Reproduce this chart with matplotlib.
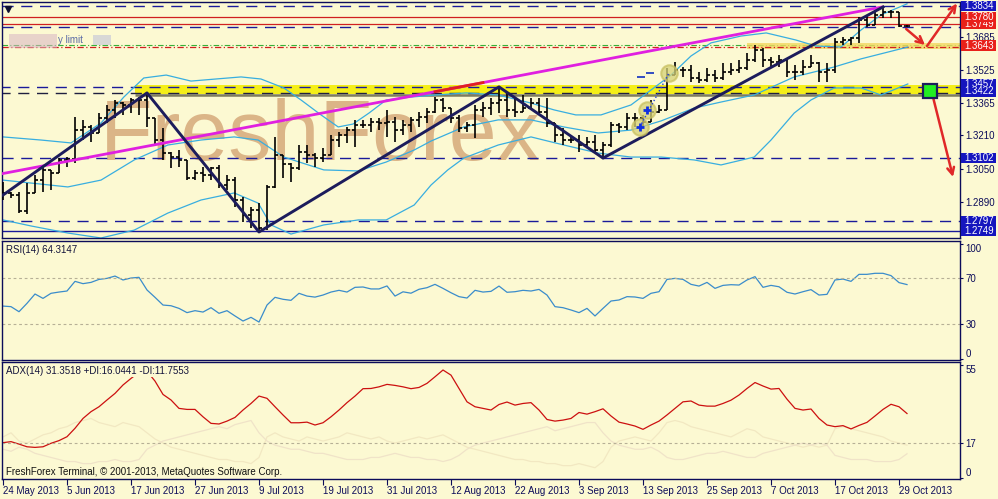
import matplotlib
matplotlib.use('Agg')
import matplotlib.pyplot as plt
from matplotlib.patches import Rectangle
import numpy as np

plt.rcParams['font.family'] = ['Liberation Sans', 'DejaVu Sans']
plt.rcParams['font.size'] = 7

bg = '#FCF9D2'
navy = '#0C0C5A'
lbl_blue = '#1515BE'
lbl_red = '#E8201A'
band_col = '#38AEE0'

# ---- price data (daily bars, bar index 0 = 24 May 2013) ----
opens = [1.2938, 1.2933, 1.2923, 1.2846, 1.2933, 1.2995, 1.3044, 1.3029, 1.3092, 1.3097,
         1.3236, 1.3251, 1.3222, 1.3294, 1.3333, 1.3366, 1.3357, 1.3381, 1.3381, 1.3294,
         1.3188, 1.3125, 1.3106, 1.3092, 1.3005, 1.3029, 1.3019, 1.3053, 1.2971, 1.2995,
         1.2899, 1.2827, 1.2851, 1.2764, 1.2962, 1.3116, 1.3072, 1.3053, 1.3130, 1.3116,
         1.3101, 1.3116, 1.3188, 1.3212, 1.3236, 1.3260, 1.3260, 1.3275, 1.3270, 1.3275,
         1.3236, 1.3260, 1.3285, 1.3299, 1.3323, 1.3381, 1.3342, 1.3294, 1.3246, 1.3260,
         1.3333, 1.3342, 1.3366, 1.3381, 1.3333, 1.3323, 1.3342, 1.3366, 1.3323, 1.3270,
         1.3212, 1.3188, 1.3188, 1.3164, 1.3178, 1.3140, 1.3164, 1.3260, 1.3251, 1.3294,
         1.3294, 1.3275, 1.3323, 1.3333, 1.3501, 1.3526, 1.3526, 1.3487, 1.3477, 1.3501,
         1.3487, 1.3516, 1.3526, 1.3535, 1.3574, 1.3622, 1.3574, 1.3564, 1.3574, 1.3516,
         1.3516, 1.3540, 1.3559, 1.3516, 1.3526, 1.3660, 1.3670, 1.3680, 1.3767, 1.3742,
         1.3791, 1.3805, 1.3805, 1.3738]
highs = [1.2986, 1.2938, 1.2938, 1.2981, 1.3019, 1.3058, 1.3044, 1.3101, 1.3106, 1.3299,
         1.3285, 1.3260, 1.3318, 1.3357, 1.3381, 1.3371, 1.3391, 1.3395, 1.3415, 1.3294,
         1.3246, 1.3130, 1.3140, 1.3092, 1.3044, 1.3058, 1.3058, 1.3068, 1.3019, 1.3010,
         1.2913, 1.2865, 1.2884, 1.2971, 1.3203, 1.3116, 1.3077, 1.3164, 1.3164, 1.3125,
         1.3150, 1.3212, 1.3227, 1.3251, 1.3285, 1.3285, 1.3294, 1.3294, 1.3333, 1.3299,
         1.3285, 1.3299, 1.3323, 1.3342, 1.3395, 1.3391, 1.3342, 1.3309, 1.3275, 1.3357,
         1.3371, 1.3391, 1.3444, 1.3415, 1.3395, 1.3405, 1.3391, 1.3391, 1.3391, 1.3270,
         1.3246, 1.3212, 1.3212, 1.3203, 1.3212, 1.3178, 1.3275, 1.3270, 1.3318, 1.3318,
         1.3309, 1.3381, 1.3357, 1.3535, 1.3564, 1.3540, 1.3550, 1.3516, 1.3535, 1.3526,
         1.3559, 1.3559, 1.3574, 1.3607, 1.3646, 1.3632, 1.3588, 1.3598, 1.3583, 1.3550,
         1.3574, 1.3598, 1.3564, 1.3559, 1.3680, 1.3685, 1.3685, 1.3781, 1.3791, 1.3815,
         1.3829, 1.3815, 1.3805, 1.3742]
lows = [1.2899, 1.2909, 1.2836, 1.2831, 1.2933, 1.2938, 1.2947, 1.3029, 1.3058, 1.3077,
        1.3188, 1.3178, 1.3222, 1.3270, 1.3294, 1.3309, 1.3318, 1.3309, 1.3251, 1.3164,
        1.3092, 1.3053, 1.3058, 1.2995, 1.2995, 1.2986, 1.2995, 1.2957, 1.2947, 1.2865,
        1.2793, 1.2764, 1.2745, 1.2754, 1.2957, 1.3005, 1.2986, 1.3044, 1.3077, 1.3058,
        1.3082, 1.3116, 1.3154, 1.3174, 1.3154, 1.3246, 1.3227, 1.3236, 1.3203, 1.3178,
        1.3212, 1.3227, 1.3251, 1.3270, 1.3318, 1.3323, 1.3270, 1.3227, 1.3227, 1.3198,
        1.3299, 1.3309, 1.3318, 1.3299, 1.3299, 1.3323, 1.3342, 1.3309, 1.3251, 1.3178,
        1.3164, 1.3174, 1.3130, 1.3150, 1.3125, 1.3101, 1.3154, 1.3222, 1.3236, 1.3251,
        1.3246, 1.3275, 1.3318, 1.3333, 1.3501, 1.3492, 1.3468, 1.3463, 1.3468, 1.3468,
        1.3477, 1.3501, 1.3511, 1.3526, 1.3564, 1.3540, 1.3540, 1.3540, 1.3492, 1.3477,
        1.3501, 1.3540, 1.3468, 1.3468, 1.3511, 1.3646, 1.3646, 1.3656, 1.3733, 1.3742,
        1.3776, 1.3776, 1.3733, 1.3733]
closes = [1.2933, 1.2923, 1.2846, 1.2933, 1.2995, 1.3044, 1.3029, 1.3092, 1.3097, 1.3236,
          1.3251, 1.3222, 1.3294, 1.3333, 1.3366, 1.3357, 1.3381, 1.3381, 1.3294, 1.3188,
          1.3125, 1.3106, 1.3092, 1.3005, 1.3029, 1.3019, 1.3053, 1.2971, 1.2995, 1.2899,
          1.2827, 1.2851, 1.2764, 1.2962, 1.3116, 1.3072, 1.3053, 1.3130, 1.3116, 1.3101,
          1.3116, 1.3188, 1.3212, 1.3236, 1.3260, 1.3260, 1.3275, 1.3270, 1.3275, 1.3236,
          1.3260, 1.3285, 1.3299, 1.3323, 1.3381, 1.3342, 1.3294, 1.3246, 1.3260, 1.3333,
          1.3342, 1.3366, 1.3381, 1.3333, 1.3323, 1.3342, 1.3366, 1.3323, 1.3270, 1.3212,
          1.3188, 1.3188, 1.3164, 1.3178, 1.3140, 1.3164, 1.3260, 1.3251, 1.3294, 1.3294,
          1.3275, 1.3323, 1.3333, 1.3501, 1.3526, 1.3526, 1.3487, 1.3477, 1.3501, 1.3487,
          1.3516, 1.3526, 1.3535, 1.3574, 1.3622, 1.3574, 1.3564, 1.3574, 1.3516, 1.3516,
          1.3540, 1.3559, 1.3516, 1.3526, 1.3660, 1.3670, 1.3680, 1.3767, 1.3742, 1.3791,
          1.3805, 1.3805, 1.3738, 1.3738]

# Bollinger bands (sampled along the curves)
bb_up_idx = [0, 4.75, 8.5, 12.25, 15.1, 17.6, 20.4, 23.5, 26.6, 29.75, 32.25, 35.1, 37.25,
             39.75, 41.9, 43.75, 45.75, 47.9, 51, 54.1, 57.9, 61.9, 66, 68.9, 71.6, 74.75,
             78.5, 81, 83.5, 86, 88.5, 92.25, 95.4, 99.1, 101.6, 104.75, 107.25, 109.75, 113]
bb_up = [1.3203, 1.3188, 1.3174, 1.3270, 1.3395, 1.3487, 1.3501, 1.3472, 1.3482, 1.3492,
         1.3482, 1.3439, 1.3381, 1.3309, 1.3251, 1.3265, 1.3318, 1.3381, 1.3395, 1.3405,
         1.3415, 1.3405, 1.3366, 1.3333, 1.3309, 1.3309, 1.3357, 1.3429, 1.3501, 1.3593,
         1.3656, 1.3689, 1.3704, 1.3670, 1.3641, 1.3636, 1.3718, 1.3791, 1.3844]
bb_mid_idx = [0, 8.1, 12.25, 16.4, 20.6, 24.75, 28.9, 31.9, 35.1, 40.1, 44.4, 47.9, 51.4,
              53.5, 57.6, 61.9, 66, 70.1, 74.4, 78.5, 82.25, 86.4, 89.75, 93.9, 98.9,
              103.9, 107.25, 113.1]
bb_mid = [1.2995, 1.2962, 1.2995, 1.3092, 1.3164, 1.3188, 1.3203, 1.3188, 1.3106, 1.3044,
          1.3039, 1.3082, 1.3140, 1.3183, 1.3251, 1.3285, 1.3285, 1.3251, 1.3222, 1.3236,
          1.3280, 1.3342, 1.3371, 1.3405, 1.3492, 1.3540, 1.3579, 1.3636]
bb_low_idx = [0, 3.5, 8.1, 12.25, 16.4, 20.6, 24.75, 28.9, 31.9, 33.5, 36, 40.1, 44.4,
              47.9, 51.4, 53.5, 55.6, 57.6, 61.9, 66, 70.1, 74.4, 78.5, 82.25, 86.4,
              89.75, 93.9, 96, 98.9, 101, 103.9, 107.25, 109.75, 113.1]
bb_low = [1.2803, 1.2774, 1.2740, 1.2716, 1.2754, 1.2836, 1.2899, 1.2933, 1.2884, 1.2779,
          1.2735, 1.2779, 1.2803, 1.2803, 1.2875, 1.2971, 1.3044, 1.3101, 1.3164, 1.3203,
          1.3164, 1.3125, 1.3106, 1.3106, 1.3092, 1.3068, 1.3106, 1.3188, 1.3318, 1.3381,
          1.3439, 1.3439, 1.3405, 1.3458]

# zigzag and trend line
zz_idx = [0, 18, 32, 62, 75, 110]
zz_price = [1.2923, 1.3415, 1.2745, 1.3444, 1.3101, 1.3829]
tl_idx = [-0.375, 109.9]
tl_price = [1.3024, 1.3829]
tl_red_idx = [54, 60]

# horizontal levels
dashed_levels = [1.3834, 1.3733, 1.3102, 1.2797]
red_levels = [1.3780, 1.3749]
solid_level = 1.2749
green_dashdot = 1.3648
red_dashdot = 1.3634
zone1 = (16.5, 1.3410, 1.3453)   # start bar, low, high
zone2 = (93.0, 1.3626, 1.3655)
zone1_lines = [1.3444, 1.3415]

price_ticks = [1.3685, 1.3525, 1.3365, 1.3210, 1.3050, 1.2890]
tag_blue = [1.3834, 1.3457, 1.3422, 1.3102, 1.2797, 1.2749]
tag_red = [1.3749, 1.3780, 1.3643]
tag_order = [1.3749, 1.3780, 1.3834, 1.3643, 1.3457, 1.3422, 1.3102, 1.2797, 1.2749]

# forecast arrows (start -> end) and entry box
arrows = [((112.9, 1.3723), (115.25, 1.3646)),
          ((115.5, 1.3641), (119.25, 1.3846)),
          ((116.25, 1.3395), (118.75, 1.3010))]
entry_box = (115.9, 1.3424)
circle_idx = [79.6, 80.5, 83.25]
circle_price = [1.3251, 1.3333, 1.3511]

# ---- indicators ----
rsi = [45.6, 45.1, 40.7, 48.0, 56.1, 52.3, 56.7, 57.8, 58.7, 67.1,
       65.1, 66.2, 68.8, 69.7, 71.7, 68.3, 70.0, 70.6, 59.6, 53.2,
       46.5, 45.9, 43.6, 39.9, 41.6, 40.4, 44.2, 39.3, 41.6, 37.0,
       32.6, 35.8, 31.7, 46.5, 53.2, 51.5, 50.6, 56.7, 54.3, 53.4,
       55.2, 57.8, 59.3, 57.8, 61.9, 62.2, 60.5, 60.5, 63.1, 54.3,
       58.0, 56.8, 60.2, 61.6, 64.5, 61.0, 57.2, 53.8, 52.6, 59.3,
       57.8, 58.4, 63.0, 57.6, 58.1, 59.3, 58.7, 60.1, 55.2, 45.1,
       44.2, 42.2, 39.9, 43.6, 37.0, 43.6, 50.0, 50.9, 53.8, 53.5,
       52.3, 56.7, 58.1, 68.8, 69.7, 68.8, 64.5, 63.0, 66.2, 61.0,
       63.6, 64.2, 63.9, 68.3, 71.2, 61.9, 63.6, 62.4, 57.6, 56.1,
       58.1, 59.9, 55.2, 55.8, 68.3, 69.1, 67.1, 73.2, 73.2, 74.1,
       74.1, 72.1, 66.0, 64.3]
adx = [17.2, 17.7, 16.5, 15.2, 14.9, 15.2, 16.9, 18.2, 20.1, 24.2,
       29.0, 32.3, 34.7, 38.0, 41.2, 45.3, 48.5, 51.5, 52.0, 47.2,
       40.7, 38.0, 33.9, 33.4, 33.4, 29.8, 26.6, 26.3, 27.7, 29.5,
       33.1, 36.3, 39.9, 38.8, 34.7, 30.7, 26.9, 26.9, 27.2, 25.8,
       26.9, 29.8, 33.1, 36.7, 39.9, 43.5, 43.6, 44.4, 45.6, 45.1,
       44.4, 43.5, 44.1, 46.1, 49.3, 52.6, 50.1, 43.6, 37.1, 34.7,
       33.9, 33.1, 35.8, 37.0, 35.5, 36.3, 36.7, 33.1, 28.5, 27.7,
       28.2, 29.0, 31.9, 31.1, 32.3, 33.7, 30.2, 27.2, 26.3, 25.3,
       23.7, 25.8, 27.7, 30.7, 33.9, 37.1, 37.5, 35.5, 35.0, 35.0,
       36.3, 37.9, 40.4, 43.6, 46.5, 44.8, 43.3, 43.6, 38.4, 33.9,
       33.1, 33.6, 29.0, 25.8, 25.0, 25.5, 23.9, 25.6, 27.1, 30.2,
       33.4, 35.9, 34.7, 31.4]
plus_di = [20, 22, 18, 17, 19, 21, 22, 24, 25, 27,
           28, 29, 27, 26, 25, 27, 26, 25, 22, 19,
           17, 15, 14, 13, 12, 11, 10, 9, 9, 8,
           8, 7, 10, 20, 22, 20, 19, 18, 20, 19,
           18, 19, 20, 22, 21, 20, 19, 20, 18, 17,
           18, 19, 20, 19, 20, 21, 19, 17, 15, 14,
           13, 12, 11, 10, 9, 9, 8, 8, 7, 7,
           6, 6, 7, 6, 5, 8, 15, 18, 19, 20,
           19, 18, 22, 27, 28, 27, 25, 24, 23, 22,
           21, 20, 22, 24, 23, 20, 19, 18, 17, 16,
           15, 16, 15, 16, 24, 25, 24, 23, 22, 21,
           20, 18, 17, 16.0]
minus_di = [14, 13, 15, 14, 12, 11, 10, 9, 8, 8,
            7, 7, 8, 8, 9, 8, 8, 9, 14, 16,
            18, 19, 20, 21, 22, 23, 24, 25, 24, 26,
            27, 28, 22, 18, 16, 15, 14, 14, 13, 12,
            12, 11, 10, 9, 9, 9, 10, 10, 11, 12,
            11, 10, 10, 9, 9, 8, 9, 11, 14, 16,
            17, 18, 19, 20, 21, 22, 23, 24, 25, 23,
            24, 25, 26, 27, 27, 22, 18, 16, 15, 14,
            14, 15, 13, 10, 9, 9, 10, 11, 12, 12,
            13, 12, 11, 10, 10, 12, 13, 14, 15, 16,
            17, 16, 17, 16, 11, 10, 9, 9, 9, 8,
            8, 8, 9, 11.8]

date_bars = [0, 8, 16, 24, 32, 40, 48, 56, 64, 72, 80, 88, 96, 104, 112]
date_labels = ['24 May 2013', '5 Jun 2013', '17 Jun 2013', '27 Jun 2013', '9 Jul 2013',
               '19 Jul 2013', '31 Jul 2013', '12 Aug 2013', '22 Aug 2013', '3 Sep 2013',
               '13 Sep 2013', '25 Sep 2013', '7 Oct 2013', '17 Oct 2013', '29 Oct 2013']

idx = np.arange(len(closes))

# ---- figure layout (pixel boxes) ----
W, H = 998, 499
fig = plt.figure(figsize=(W / 100, H / 100), dpi=100, facecolor=bg)


def panel(left, top, right, bottom):
    a = fig.add_axes([left / W, 1 - bottom / H, (right - left) / W, (bottom - top) / H])
    a.set_facecolor(bg)
    for s in a.spines.values():
        s.set_color(navy)
        s.set_linewidth(1)
    a.set_xlim(-0.125, 119.625)
    a.yaxis.tick_right()
    a.tick_params(axis='y', length=2.5, color=navy, labelcolor=navy, labelsize=7, pad=1.5)
    a.tick_params(axis='x', length=0)
    a.set_xticks([])
    return a


ax = panel(2, 2, 960, 238)
ax_rsi = panel(2, 241, 960, 360)
ax_adx = panel(2, 362, 960, 479)

# ---- main price panel ----
ax.set_ylim(1.2716, 1.3853)
ax.set_yticks(price_ticks)
ax.set_yticklabels(['%.4f' % p for p in price_ticks])

ax.text(12.1, 1.3092, 'FreshForex', fontsize=62, color='#DBB587', va='baseline',
        ha='left', zorder=0.5, family='Liberation Sans')

for lv in dashed_levels:
    ax.axhline(lv, color='#1A1A9A', lw=1, dashes=(8, 5.5), zorder=1)
for lv in red_levels:
    ax.axhline(lv, color='#D02020', lw=0.9, zorder=1)
ax.axhline(solid_level, color='#1A1A9A', lw=1, zorder=1)
ax.axhline(green_dashdot, color='#38B038', lw=0.8, dashes=(5, 2, 1, 2), zorder=1)

# highlighted zones
ax.fill_between([zone1[0], 120], zone1[1], zone1[2], color='#F4EE18', zorder=1.2, lw=0)
ax.hlines(zone1[1] - 0.0004, zone1[0], 120, color='#3A3A20', lw=1.8, alpha=0.65, zorder=1.2)
ax.hlines(zone1_lines[0], -1, 120, color='#1A1A9A', lw=1, linestyles=[(0, (8, 5.5))], zorder=1.3)
ax.hlines(zone1_lines[1], -1, 120, color='#202040', lw=1, linestyles=[(0, (8, 5.5))], zorder=1.3)
ax.fill_between([zone2[0], 120], zone2[1], zone2[2], color='#F2D860', alpha=0.8, zorder=1.2, lw=0)
ax.axhline(red_dashdot, color='#D02020', lw=0.9, dashes=(5, 2, 1, 2), zorder=1.3)

# bollinger bands
ax.plot(bb_up_idx, bb_up, color=band_col, lw=0.9, zorder=2)
ax.plot(bb_mid_idx, bb_mid, color=band_col, lw=0.9, zorder=2)
ax.plot(bb_low_idx, bb_low, color=band_col, lw=0.9, zorder=2)

# OHLC bars
ax.vlines(idx, lows, highs, color='black', lw=1.2, zorder=3)
ax.hlines(opens, idx - 0.4, idx, color='black', lw=1.2, zorder=3)
ax.hlines(closes, idx, idx + 0.4, color='black', lw=1.2, zorder=3)

# zigzag and trend line
ax.plot(tl_idx, tl_price, color='#E020E0', lw=2, zorder=4)
ax.plot(tl_red_idx, np.interp(tl_red_idx, tl_idx, tl_price), color='#E02020', lw=2, zorder=4.1)
ax.plot(zz_idx, zz_price, color='#1C1C5C', lw=2.1, zorder=4.2)

# signal circles
ax.scatter(circle_idx, circle_price, s=140, color='#D6D278', alpha=0.75,
           edgecolors='#C8C060', linewidths=1.5, zorder=4.5)
ax.plot(circle_idx[0:3:2], circle_price[0:3:2], color='#2040E0', lw=1, ls=':', zorder=4.6)
ax.plot(circle_idx[:2], circle_price[:2], marker='+', ls='none', color='#1030E0',
        ms=6, mew=2, zorder=4.7)
ax.plot([79.75, 80.9], [1.3492, 1.3511], marker='_', ls='none', color='#1030C0',
        ms=6, mew=1.2, zorder=4.7)

# arrows and entry box
for start, end in arrows:
    ax.annotate('', xy=end, xytext=start, zorder=5, annotation_clip=False,
                arrowprops=dict(arrowstyle='->,head_length=0.7,head_width=0.35',
                                color='#E02828', lw=1.8, shrinkA=0, shrinkB=0))
ax.plot(*entry_box, marker='s', ms=10, mfc='#22EE22', mec='#1C1C5C', mew=1.6, zorder=6)

# small marker and blurred order label at top left
ax.plot(0.6, 1.3820, marker='v', ms=4, color='#101030', zorder=5)
ax.fill_between([0.7, 6.8], 1.3632, 1.3699, color='#D8B4C4', alpha=0.55, lw=0, zorder=5)
ax.fill_between([11.2, 13.5], 1.3648, 1.3692, color='#CACAD8', alpha=0.7, lw=0, zorder=5)
ax.text(6.9, 1.3670, 'y limit', color='#5A6AA6', fontsize=7, va='center', ha='left', zorder=5)

# price tags on the right (later ones drawn on top)
ytr = ax.get_yaxis_transform()
box_h = 0.0050
for k, p in enumerate(tag_order):
    col = lbl_red if p in tag_red else lbl_blue
    ax.add_patch(Rectangle((1 + 1 / 958, p - box_h / 2), 35 / 958, box_h, transform=ytr,
                           fc=col, ec='none', clip_on=False, zorder=10 + 2 * k))
    ax.text(1 + 4.5 / 958, p, '%.4f' % p, transform=ytr, ha='left', va='center',
            color='white', fontsize=7, zorder=11 + 2 * k, clip_on=False)

# ---- RSI panel ----
ax_rsi.set_ylim(-1.3, 102.2)
ax_rsi.plot(idx, rsi, color='#3A8CCB', lw=0.9)
for lv in (70, 30):
    ax_rsi.axhline(lv, color='#B6B096', lw=0.8, dashes=(2.5, 2.5))
ax_rsi.set_yticks([100, 70, 30, 0])
ax_rsi.set_yticklabels(['100', '70', '30', '0'])
ax_rsi.get_yticklabels()[0].set_verticalalignment('top')
ax_rsi.get_yticklabels()[3].set_verticalalignment('bottom')
ax_rsi.text(4 / 958, 0.925, 'RSI(14) 64.3147', transform=ax_rsi.transAxes,
            color='#14143C', fontsize=7, va='center', ha='left')

# ---- ADX panel ----
ax_adx.set_ylim(-0.5, 56.5)
ax_adx.plot(idx, plus_di, color='#F2E8C2', lw=0.9)
ax_adx.plot(idx, minus_di, color='#F0E3C8', lw=0.9)
ax_adx.plot(idx, adx, color='#CC1010', lw=0.9)
ax_adx.axhline(17, color='#B6B096', lw=0.8, dashes=(2.5, 2.5))
ax_adx.set_yticks([55, 17, 0])
ax_adx.set_yticklabels(['55', '17', '0'])
ax_adx.get_yticklabels()[0].set_verticalalignment('top')
ax_adx.get_yticklabels()[2].set_verticalalignment('bottom')
ax_adx.text(4 / 958, 0.925, 'ADX(14) 31.3518 +DI:16.0441 -DI:11.7553',
            transform=ax_adx.transAxes, color='#14143C', fontsize=7, va='center',
            ha='left', zorder=10, bbox=dict(boxstyle='square,pad=0.1', fc=bg, ec='none'))
ax_adx.text(4 / 958, 0.06, 'FreshForex Terminal, \u00a9 2001-2013, MetaQuotes Software Corp.',
            transform=ax_adx.transAxes, color='#101010', fontsize=7, va='center', ha='left')

ax_adx.set_xticks(date_bars)
ax_adx.set_xticklabels(date_labels, ha='left')
ax_adx.tick_params(axis='x', length=4, color=navy, labelcolor=navy, labelsize=7, pad=1)

fig.savefig('out.png', dpi=100, facecolor=bg)
